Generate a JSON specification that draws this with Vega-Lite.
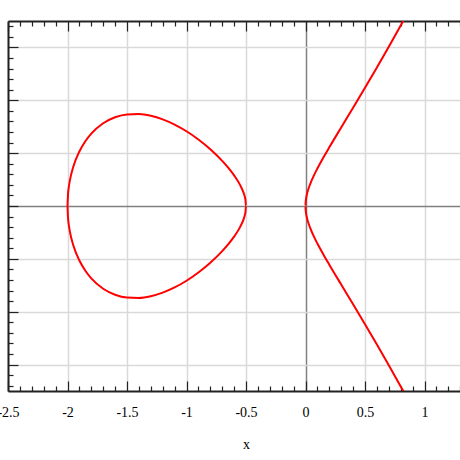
{
  "$schema": "https://vega.github.io/schema/vega-lite/v6.json",
  "autosize": "none",
  "width": 476,
  "height": 370,
  "padding": {"left": 8, "top": 21, "right": 0, "bottom": 69},
  "background": "white",
  "config": {
    "view": {"stroke": null},
    "axis": {"labelFont": "Liberation Serif", "titleFont": "Liberation Serif", "labelColor": "#000", "titleColor": "#000", "tickColor": "#222", "domainColor": "#222", "domainWidth": 2, "tickWidth": 1.2}
  },
  "data": {"values": [
    {"b":"oval","i":0,"x":-2,"y":0},
    {"b":"oval","i":1,"x":-1.995,"y":0.1221},
    {"b":"oval","i":2,"x":-1.99,"y":0.1722},
    {"b":"oval","i":3,"x":-1.98,"y":0.2421},
    {"b":"oval","i":4,"x":-1.95,"y":0.376},
    {"b":"oval","i":5,"x":-1.9,"y":0.5158},
    {"b":"oval","i":6,"x":-1.85,"y":0.6121},
    {"b":"oval","i":7,"x":-1.8,"y":0.6841},
    {"b":"oval","i":8,"x":-1.7,"y":0.7823},
    {"b":"oval","i":9,"x":-1.6,"y":0.839},
    {"b":"oval","i":10,"x":-1.5,"y":0.866},
    {"b":"oval","i":11,"x":-1.4,"y":0.8695},
    {"b":"oval","i":12,"x":-1.3,"y":0.8532},
    {"b":"oval","i":13,"x":-1.2,"y":0.8198},
    {"b":"oval","i":14,"x":-1.1,"y":0.7707},
    {"b":"oval","i":15,"x":-1.0,"y":0.7071},
    {"b":"oval","i":16,"x":-0.9,"y":0.6293},
    {"b":"oval","i":17,"x":-0.8,"y":0.5367},
    {"b":"oval","i":18,"x":-0.7,"y":0.4266},
    {"b":"oval","i":19,"x":-0.65,"y":0.3628},
    {"b":"oval","i":20,"x":-0.6,"y":0.2898},
    {"b":"oval","i":21,"x":-0.55,"y":0.1997},
    {"b":"oval","i":22,"x":-0.52,"y":0.1241},
    {"b":"oval","i":23,"x":-0.51,"y":0.0872},
    {"b":"oval","i":24,"x":-0.505,"y":0.0614},
    {"b":"oval","i":25,"x":-0.5,"y":0},
    {"b":"oval","i":26,"x":-0.505,"y":-0.0614},
    {"b":"oval","i":27,"x":-0.51,"y":-0.0872},
    {"b":"oval","i":28,"x":-0.52,"y":-0.1241},
    {"b":"oval","i":29,"x":-0.55,"y":-0.1997},
    {"b":"oval","i":30,"x":-0.6,"y":-0.2898},
    {"b":"oval","i":31,"x":-0.65,"y":-0.3628},
    {"b":"oval","i":32,"x":-0.7,"y":-0.4266},
    {"b":"oval","i":33,"x":-0.8,"y":-0.5367},
    {"b":"oval","i":34,"x":-0.9,"y":-0.6293},
    {"b":"oval","i":35,"x":-1.0,"y":-0.7071},
    {"b":"oval","i":36,"x":-1.1,"y":-0.7707},
    {"b":"oval","i":37,"x":-1.2,"y":-0.8198},
    {"b":"oval","i":38,"x":-1.3,"y":-0.8532},
    {"b":"oval","i":39,"x":-1.4,"y":-0.8695},
    {"b":"oval","i":40,"x":-1.5,"y":-0.866},
    {"b":"oval","i":41,"x":-1.6,"y":-0.839},
    {"b":"oval","i":42,"x":-1.7,"y":-0.7823},
    {"b":"oval","i":43,"x":-1.8,"y":-0.6841},
    {"b":"oval","i":44,"x":-1.85,"y":-0.6121},
    {"b":"oval","i":45,"x":-1.9,"y":-0.5158},
    {"b":"oval","i":46,"x":-1.95,"y":-0.376},
    {"b":"oval","i":47,"x":-1.98,"y":-0.2421},
    {"b":"oval","i":48,"x":-1.99,"y":-0.1722},
    {"b":"oval","i":49,"x":-1.995,"y":-0.1221},
    {"b":"oval","i":50,"x":-2,"y":0},
    {"b":"right","i":0,"x":0.83,"y":1.7675},
    {"b":"right","i":1,"x":0.82,"y":1.7471},
    {"b":"right","i":2,"x":0.8,"y":1.7065},
    {"b":"right","i":3,"x":0.7,"y":1.506},
    {"b":"right","i":4,"x":0.6,"y":1.31},
    {"b":"right","i":5,"x":0.5,"y":1.118},
    {"b":"right","i":6,"x":0.4,"y":0.9295},
    {"b":"right","i":7,"x":0.3,"y":0.743},
    {"b":"right","i":8,"x":0.2,"y":0.555},
    {"b":"right","i":9,"x":0.15,"y":0.4578},
    {"b":"right","i":10,"x":0.1,"y":0.355},
    {"b":"right","i":11,"x":0.07,"y":0.2874},
    {"b":"right","i":12,"x":0.04,"y":0.2099},
    {"b":"right","i":13,"x":0.02,"y":0.1449},
    {"b":"right","i":14,"x":0.01,"y":0.1012},
    {"b":"right","i":15,"x":0.005,"y":0.07115},
    {"b":"right","i":16,"x":0.002,"y":0.04483},
    {"b":"right","i":17,"x":0.0005,"y":0.02237},
    {"b":"right","i":18,"x":0,"y":0},
    {"b":"right","i":19,"x":0.0005,"y":-0.02237},
    {"b":"right","i":20,"x":0.002,"y":-0.04483},
    {"b":"right","i":21,"x":0.005,"y":-0.07115},
    {"b":"right","i":22,"x":0.01,"y":-0.1012},
    {"b":"right","i":23,"x":0.02,"y":-0.1449},
    {"b":"right","i":24,"x":0.04,"y":-0.2099},
    {"b":"right","i":25,"x":0.07,"y":-0.2874},
    {"b":"right","i":26,"x":0.1,"y":-0.355},
    {"b":"right","i":27,"x":0.15,"y":-0.4578},
    {"b":"right","i":28,"x":0.2,"y":-0.555},
    {"b":"right","i":29,"x":0.3,"y":-0.743},
    {"b":"right","i":30,"x":0.4,"y":-0.9295},
    {"b":"right","i":31,"x":0.5,"y":-1.118},
    {"b":"right","i":32,"x":0.6,"y":-1.31},
    {"b":"right","i":33,"x":0.7,"y":-1.506},
    {"b":"right","i":34,"x":0.8,"y":-1.7065},
    {"b":"right","i":35,"x":0.82,"y":-1.7471},
    {"b":"right","i":36,"x":0.83,"y":-1.7675}
  ]},
  "resolve": {"axis": {"x": "independent", "y": "independent"}},
  "layer": [
    {
      "mark": {"type": "line", "color": "#ff0000", "strokeWidth": 2, "clip": true, "interpolate": "monotone"},
      "encoding": {
        "x": {"field": "x", "type": "quantitative", "scale": {"domain": [-2.5, 1.5], "nice": false, "zero": false},
          "axis": {"orient": "bottom", "values": [-2.5, -2, -1.5, -1, -0.5, 0, 0.5, 1], "tickSize": -10, "labelPadding": 24, "labelFontSize": 14, "labelExpr": "datum.value + ''", "labelFlush": false, "labelOverlap": false, "title": "x", "titleFontSize": 14, "titleFontWeight": "normal", "titlePadding": 18, "grid": true, "gridColor": {"condition": {"test": "datum.value === 0", "value": "#808080"}, "value": "#d9d9d9"}, "gridWidth": 1.5}},
        "y": {"field": "y", "type": "quantitative", "scale": {"domain": [-1.75, 1.75], "nice": false, "zero": false},
          "axis": {"orient": "left", "values": [-1.5, -1, -0.5, 0, 0.5, 1, 1.5], "tickSize": -10, "labels": false, "title": null, "grid": true, "gridColor": {"condition": {"test": "datum.value === 0", "value": "#808080"}, "value": "#d9d9d9"}, "gridWidth": 1.5}},
        "detail": {"field": "b"},
        "order": {"field": "i", "type": "quantitative"}
      }
    },
    {
      "mark": {"type": "point", "opacity": 0},
      "encoding": {
        "x": {"field": "x", "type": "quantitative",
          "axis": {"orient": "bottom", "values": [-2.4,-2.3,-2.2,-2.1,-1.9,-1.8,-1.7,-1.6,-1.4,-1.3,-1.2,-1.1,-0.9,-0.8,-0.7,-0.6,-0.4,-0.3,-0.2,-0.1,0.1,0.2,0.3,0.4,0.6,0.7,0.8,0.9,1.1,1.2,1.3,1.4], "tickSize": -5, "labels": false, "domain": false, "title": null, "grid": false}},
        "y": {"field": "y", "type": "quantitative",
          "axis": {"orient": "left", "values": [-1.7,-1.6,-1.4,-1.3,-1.2,-1.1,-0.9,-0.8,-0.7,-0.6,-0.4,-0.3,-0.2,-0.1,0.1,0.2,0.3,0.4,0.6,0.7,0.8,0.9,1.1,1.2,1.3,1.4,1.6,1.7], "tickSize": -5, "labels": false, "domain": false, "title": null, "grid": false}}
      }
    },
    {
      "mark": {"type": "point", "opacity": 0},
      "encoding": {
        "x": {"field": "x", "type": "quantitative",
          "axis": {"orient": "top", "values": [-2.5, -2, -1.5, -1, -0.5, 0, 0.5, 1, 1.5], "tickSize": -10, "labels": false, "title": null, "grid": false}},
        "y": {"field": "y", "type": "quantitative", "axis": null}
      }
    },
    {
      "mark": {"type": "point", "opacity": 0},
      "encoding": {
        "x": {"field": "x", "type": "quantitative",
          "axis": {"orient": "top", "values": [-2.4,-2.3,-2.2,-2.1,-1.9,-1.8,-1.7,-1.6,-1.4,-1.3,-1.2,-1.1,-0.9,-0.8,-0.7,-0.6,-0.4,-0.3,-0.2,-0.1,0.1,0.2,0.3,0.4,0.6,0.7,0.8,0.9,1.1,1.2,1.3,1.4], "tickSize": -5, "labels": false, "domain": false, "title": null, "grid": false}},
        "y": {"field": "y", "type": "quantitative", "axis": null}
      }
    }
  ]
}
